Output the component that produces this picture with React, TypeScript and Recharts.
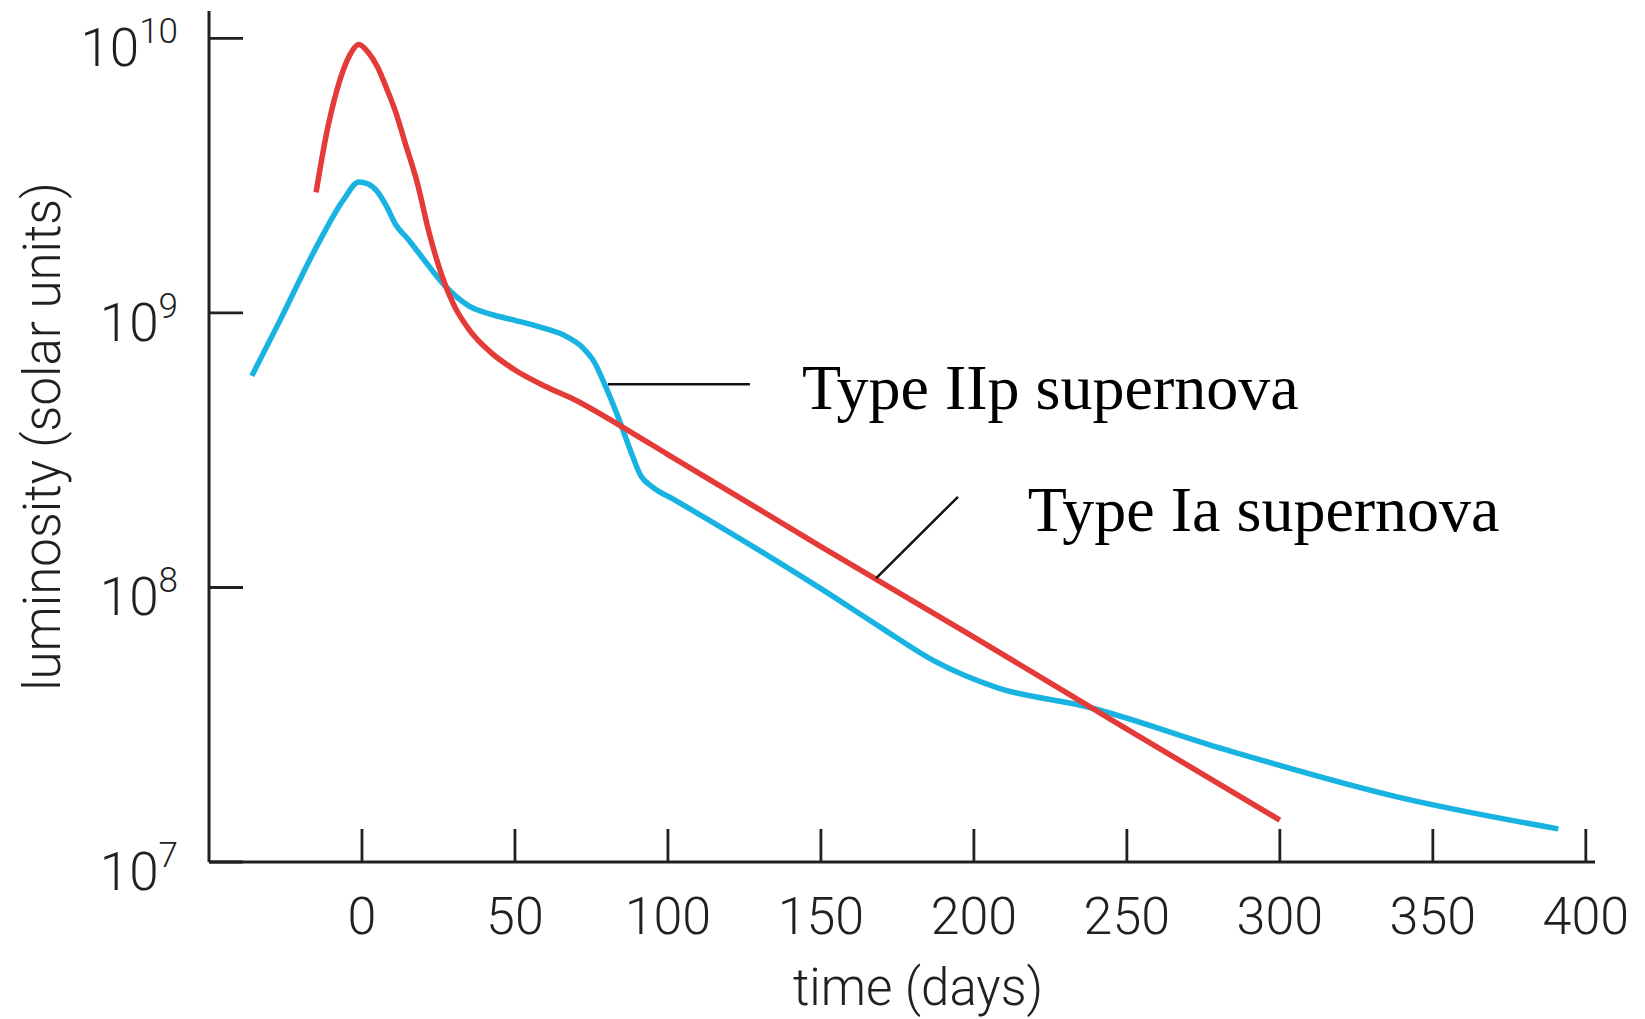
import React from "react";
import { LineChart, Line, XAxis, YAxis, ReferenceLine, ReferenceDot } from "recharts";

// Type Ia supernova (red): days after peak, luminosity in solar units
const iaDays = [-15, -12, -8, -4, -1, 2, 5, 8, 11, 14, 18, 22, 26, 30, 35, 42, 50, 60, 70, 85, 100, 150, 200, 250, 300];
const iaLum = [
  2.75e9, 4.27e9, 6.6e9, 8.7e9, 9.5e9, 8.9e9, 7.9e9, 6.6e9, 5.4e9, 4.2e9,
  3.0e9, 1.95e9, 1.38e9, 1.07e9, 8.7e8, 7.2e8, 6.2e8, 5.4e8, 4.8e8, 3.85e8,
  3.05e8, 1.41e8, 6.6e7, 3.05e7, 1.42e7,
];

// Type IIp supernova (blue)
const iipDays = [-36, -27, -15, -6, -1, 2, 5, 8, 11, 15, 19, 27, 35, 42, 50, 58, 66, 72, 76, 79, 84, 88, 91, 95, 102, 132, 150, 170, 187, 208, 236, 282, 339, 391];
const iipLum = [
  5.9e8, 9.3e8, 1.73e9, 2.59e9, 3.0e9, 2.95e9, 2.77e9, 2.45e9, 2.1e9, 1.86e9,
  1.63e9, 1.26e9, 1.06e9, 9.9e8, 9.4e8, 8.9e8, 8.3e8, 7.5e8, 6.6e8, 5.6e8,
  4.1e8, 3.1e8, 2.57e8, 2.32e8, 2.09e8, 1.32e8, 9.9e7, 7.1e7, 5.4e7, 4.3e7,
  3.7e7, 2.57e7, 1.72e7, 1.32e7,
];

const xTicks = [0, 50, 100, 150, 200, 250, 300, 350, 400];
const yTicks = [1e7, 1e8, 1e9, 1e10];

const iaData = iaDays.map((d, i) => ({ day: d, lum: iaLum[i] }));
const iipData = iipDays.map((d, i) => ({ day: d, lum: iipLum[i] }));

const INK = "#231f20";
const SANS = "Roboto, 'Liberation Sans', sans-serif";
const SERIF = "'Liberation Serif', 'Times New Roman', serif";

function XTick(props: any) {
  const { x, y, payload } = props;
  return (
    <g>
      <line x1={x} y1={y} x2={x} y2={y - 33} stroke={INK} strokeWidth={2.8} />
      <text x={x} y={y + 72} textAnchor="middle" fontFamily={SANS} fontWeight={300} fontSize={52} fill={INK}>
        {payload.value}
      </text>
    </g>
  );
}

function YTick(props: any) {
  const { x, y, payload } = props;
  const exp = Math.round(Math.log10(payload.value));
  return (
    <g>
      <line x1={x} y1={y} x2={x + 34} y2={y} stroke={INK} strokeWidth={2.8} />
      <text x={x - 31} y={y + 28} textAnchor="end" fontFamily={SANS} fontWeight={300} fontSize={53} fill={INK}>
        10
        <tspan dy={-23} fontSize={35}>
          {exp}
        </tspan>
      </text>
    </g>
  );
}

function annotation(text: string) {
  return (props: any) => {
    const vb = props.viewBox || {};
    return (
      <text x={vb.x} y={vb.y} fontFamily={SERIF} fontSize={64} fill="#000">
        {text}
      </text>
    );
  };
}

export default function App() {
  return (
    <div style={{ position: "absolute", left: 0, top: 0, background: "#fff" }}>
      <LineChart width={1645} height={1019} margin={{ top: 11, right: 50, bottom: 0, left: 9 }}>
        <XAxis
          type="number"
          dataKey="day"
          domain={[-50, 403]}
          ticks={xTicks}
          interval={0}
          allowDataOverflow
          height={157}
          tickSize={0}
          tickMargin={0}
          tickLine={false}
          axisLine={{ stroke: INK, strokeWidth: 3 }}
          tick={<XTick />}
          label={{
            content: (p: any) => {
              const vb = p.viewBox;
              return (
                <text x={vb.x + vb.width / 2 + 16} y={vb.y + 143} textAnchor="middle" fontFamily={SANS} fontWeight={300} fontSize={51} fill={INK}>
                  time (days)
                </text>
              );
            },
          }}
        />
        <YAxis
          type="number"
          scale="log"
          domain={[1e7, 1.259e10]}
          ticks={yTicks}
          interval={0}
          allowDataOverflow
          width={200}
          tickSize={0}
          tickMargin={0}
          tickLine={false}
          axisLine={{ stroke: INK, strokeWidth: 3 }}
          tick={<YTick />}
          label={{
            content: (p: any) => {
              const vb = p.viewBox;
              const lx = vb.x + 51;
              const ly = vb.y + vb.height / 2;
              return (
                <text x={lx} y={ly} transform={`rotate(-90 ${lx} ${ly})`} textAnchor="middle" fontFamily={SANS} fontWeight={300} fontSize={51} fill={INK}>
                  luminosity (solar units)
                </text>
              );
            },
          }}
        />
        <Line data={iipData} dataKey="lum" type="monotone" stroke="#19b3e2" strokeWidth={5.5} dot={false} isAnimationActive={false} />
        <Line data={iaData} dataKey="lum" type="monotone" stroke="#e43a38" strokeWidth={5.5} dot={false} isAnimationActive={false} />
        <ReferenceLine segment={[{ x: 80.4, y: 5.5e8 }, { x: 126.8, y: 5.5e8 }]} stroke="#111" strokeWidth={2.5} />
        <ReferenceLine segment={[{ x: 168, y: 1.08e8 }, { x: 194.8, y: 2.14e8 }]} stroke="#111" strokeWidth={2.5} />
        <ReferenceDot x={143.8} y={4.47e8} r={0} stroke="none" fill="none" label={{ content: annotation("Type IIp supernova") }} />
        <ReferenceDot x={217.6} y={1.61e8} r={0} stroke="none" fill="none" label={{ content: annotation("Type Ia supernova") }} />
      </LineChart>
    </div>
  );
}
